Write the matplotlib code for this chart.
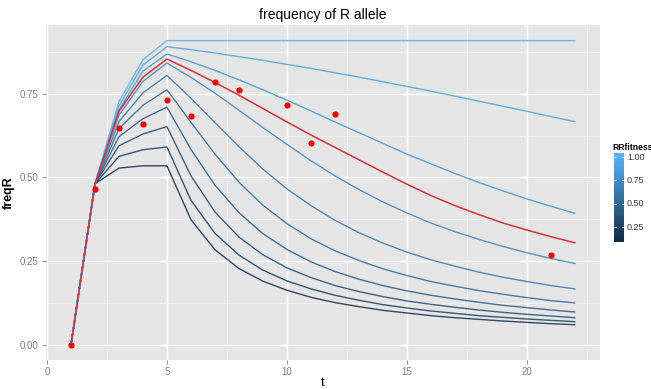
import matplotlib
matplotlib.use('Agg')
import matplotlib.pyplot as plt
import numpy as np
from matplotlib.colors import LinearSegmentedColormap, Normalize
from matplotlib.ticker import MultipleLocator

plt.rcParams['font.family'] = ['Liberation Sans Narrow', 'Liberation Sans', 'DejaVu Sans']

# generations
t = list(range(1, 23))

# simulated R allele frequency for each RR fitness level
freq_10 = [0, .481, .727, .852, .909, .909, .909, .909, .909, .909, .909,
           .909, .909, .909, .909, .909, .909, .909, .909, .909, .909, .909]
freq_09 = [0, .481, .714, .836, .891, .882, .872, .861, .850, .838, .826,
           .813, .800, .786, .772, .758, .743, .728, .713, .698, .682, .667]
freq_08 = [0, .481, .702, .818, .869, .846, .820, .792, .762, .731, .699,
           .666, .634, .602, .570, .541, .512, .485, .460, .436, .414, .393]
freq_07 = [0, .481, .686, .787, .842, .799, .752, .701, .649, .599, .550,
           .505, .464, .427, .394, .364, .338, .315, .294, .275, .258, .243]
freq_06 = [0, .481, .667, .753, .805, .737, .664, .592, .525, .466, .416,
           .372, .335, .304, .277, .254, .235, .217, .202, .189, .177, .167]
freq_05 = [0, .481, .646, .716, .762, .665, .570, .486, .417, .362, .317,
           .281, .252, .227, .207, .189, .175, .162, .151, .141, .132, .125]
freq_04 = [0, .481, .622, .676, .710, .584, .477, .395, .332, .285, .248,
           .219, .196, .177, .161, .148, .137, .127, .118, .111, .104, .098]
freq_03 = [0, .481, .595, .630, .652, .505, .397, .322, .269, .230, .201,
           .177, .159, .144, .131, .121, .112, .104, .097, .091, .086, .081]
freq_02 = [0, .481, .563, .583, .591, .432, .333, .268, .223, .191, .167,
           .148, .133, .120, .110, .101, .094, .087, .082, .077, .073, .069]
freq_01 = [0, .481, .528, .535, .535, .374, .284, .228, .190, .163, .142,
           .126, .114, .103, .095, .087, .081, .076, .071, .067, .063, .060]
rrfitness = [0.1, 0.2, 0.3, 0.4, 0.5, 0.6, 0.7, 0.8, 0.9, 1.0]

# best fitting run
freq_fit = [0, .481, .698, .800, .854, .820, .784, .746, .706, .666, .627,
            .590, .553, .516, .480, .446, .416, .389, .364, .343, .323, .305]

# observed data
obs_t = [1, 2, 3, 4, 5, 6, 7, 8, 10, 11, 12, 21]
obs_freq = [0, .466, .649, .660, .732, .684, .784, .762, .716, .603, .689, .268]

lines = [freq_01, freq_02, freq_03, freq_04, freq_05,
         freq_06, freq_07, freq_08, freq_09, freq_10]

cmap = LinearSegmentedColormap.from_list('gg', ['#132B43', '#56B1F7'])
norm = Normalize(vmin=min(rrfitness), vmax=max(rrfitness))

fig = plt.figure(figsize=(6.51, 3.89), dpi=100)
ax = fig.add_axes([45.8 / 651, 29 / 389, 554.2 / 651, 334.6 / 389])
ax.set_facecolor('#E5E5E5')
for s in ax.spines.values():
    s.set_visible(False)

for f, vals in zip(rrfitness, lines):
    ax.plot(t, vals, color=cmap(norm(f)), lw=1.0, alpha=0.85, zorder=3)
ax.plot(t, freq_fit, color='#d8303a', lw=1.1, zorder=4)
ax.scatter(obs_t, obs_freq, s=20, color='#ff0000', zorder=5, linewidths=0)

ax.set_xlim(-0.05, 23.05)
ax.set_ylim(-0.0455, 0.9545)
ax.xaxis.set_major_locator(MultipleLocator(5))
ax.xaxis.set_minor_locator(MultipleLocator(2.5))
ax.set_yticks([0, 0.25, 0.5, 0.75])
ax.set_yticks([0.125, 0.375, 0.625, 0.875], minor=True)
ax.set_yticklabels(['0.00', '0.25', '0.50', '0.75'])
ax.grid(which='major', color='white', lw=1.0, zorder=1)
ax.grid(which='minor', color='#F2F2F2', lw=0.5, zorder=0.5)
ax.set_axisbelow(True)
ax.tick_params(which='major', length=3, width=0.6, color='#7F7F7F',
               labelcolor='#7F7F7F', labelsize=7, pad=2)
ax.tick_params(which='minor', length=0)

ax.set_xlabel('t', fontsize=9.5, labelpad=0)
ax.set_ylabel('freqR', fontsize=9, fontweight='bold', labelpad=4)
fig.text(0.496, 1 - 15 / 389, 'frequency of R allele', ha='center', va='center',
         fontsize=10)

# colour bar legend
cax = fig.add_axes([614 / 651, (389 - 242) / 389, 10 / 651, 89 / 389])
lo, hi = 0.09, 1.043
grad = np.linspace(lo, hi, 200).reshape(-1, 1)
cax.imshow(grad, cmap=cmap, norm=norm, aspect='auto', origin='lower',
           extent=[0, 1, lo, hi])
cax.set_xlim(0, 1)
cax.set_ylim(lo, hi)
cax.set_xticks([])
cax.set_yticks([])
for s in cax.spines.values():
    s.set_visible(False)
for v in [0.25, 0.5, 0.75, 1.0]:
    cax.plot([0, 0.2], [v, v], color='white', lw=0.5)
    cax.plot([0.8, 1], [v, v], color='white', lw=0.5)
    cax.text(1.3, v, '%.2f' % v, fontsize=6.5, color='#333333',
             va='center', ha='left', transform=cax.transData, clip_on=False)
fig.text(612 / 651, 1 - 147 / 389, 'RRfitness', fontsize=6.2, fontweight='bold',
         ha='left', va='center')

plt.savefig('out.png', dpi=100)
